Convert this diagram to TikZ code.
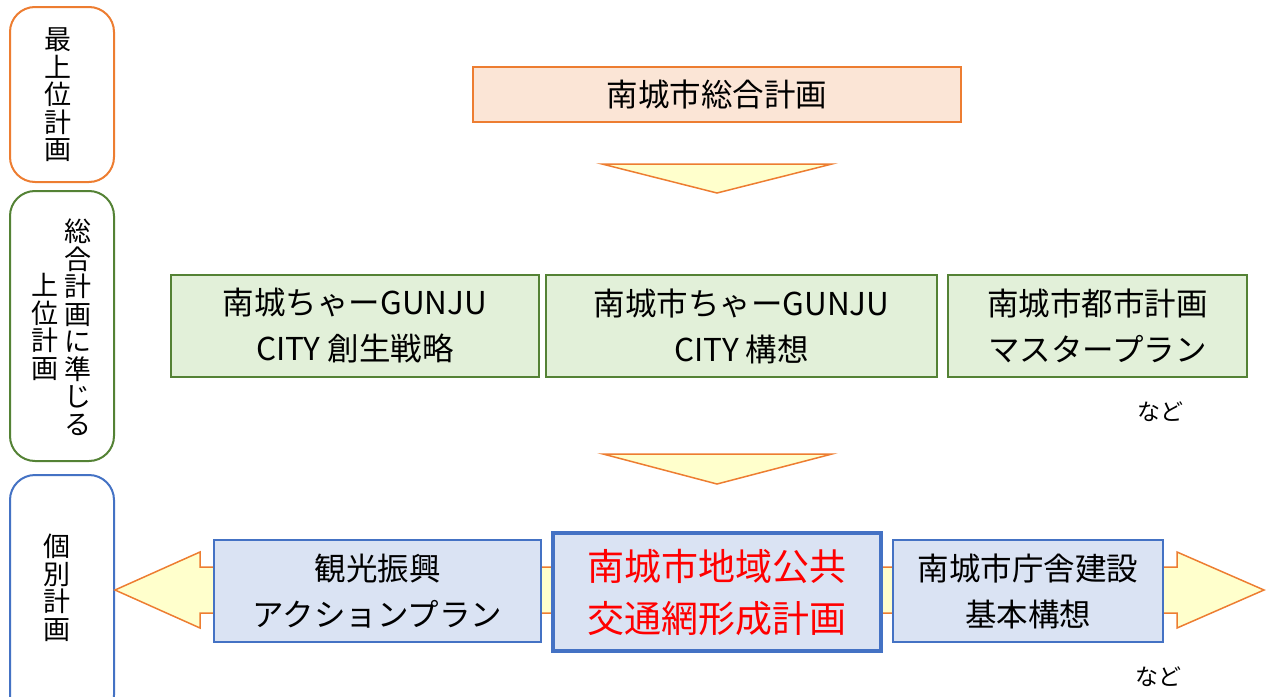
\documentclass[tikz,border=0pt]{standalone}
\usepackage{fontspec}
\setmainfont{Noto Sans CJK JP}
\usetikzlibrary{positioning}
\definecolor{planorange}{HTML}{ED7D31}
\definecolor{planpink}{HTML}{FBE5D6}
\definecolor{plangreen}{HTML}{548235}
\definecolor{planlgreen}{HTML}{E2F0D9}
\definecolor{planblue}{HTML}{4472C4}
\definecolor{planlblue}{HTML}{DAE3F3}
\definecolor{planyellow}{HTML}{FFFFCC}
\tikzstyle{levelbox} = [draw, line width=2, rounded corners=25, fill=white]
\tikzstyle{vtext} = [inner sep=0, align=center, font=\fontsize{27}{27.5}\selectfont]
\tikzstyle{planbox} = [draw, line width=1.5, inner sep=0, align=center, font=\fontsize{31.5}{46}\selectfont]
\tikzstyle{greenbox} = [planbox, draw=plangreen, fill=planlgreen, minimum height=102]
\tikzstyle{bluebox} = [planbox, draw=planblue, fill=planlblue, minimum height=102]
\tikzstyle{flow} = [draw=planorange, fill=planyellow, line width=1.5, line join=miter]
\tikzstyle{etc} = [inner sep=0, font=\fontsize{23}{26}\selectfont]

\begin{document}
\begin{tikzpicture}[x=1pt,y=-1pt]
		\useasboundingbox (0,0) rectangle (1266,696);
		\clip (0,0) rectangle (1266,696);

		% level column
		\draw[levelbox, draw=planorange] (10,7) rectangle (114,182);
		\draw[levelbox, draw=plangreen] (10,191) rectangle (114,461);
		\draw[levelbox, draw=planblue] (10,475) rectangle (114,720);
		\node[vtext] (top) at (58,95) {最\\上\\位\\計\\画};
		\node[vtext] (sub1) at (78,327) {総\\合\\計\\画\\に\\準\\じ\\る};
		\node[vtext] (sub2) at (45,327) {上\\位\\計\\画};
		\node[vtext] (each) at (57,588) {個\\別\\計\\画};

		% arrows
		\draw[flow] (602,164) -- (832,164) -- (717,193) -- cycle;
		\draw[flow] (603,454) -- (832,454) -- (717,484) -- cycle;
		\draw[flow] (115,590) -- (200,552) -- (200,567) -- (1177,567) -- (1177,552)
			-- (1264,590) -- (1177,628) -- (1177,613) -- (200,613) -- (200,628) -- cycle;

		% plans
		\node[planbox, draw=planorange, fill=planpink, minimum width=488, minimum height=55]
			(sogo) at (717,94.5) {南城市総合計画};

		\node[greenbox, minimum width=368] (sosei) at (355,326) {南城ちゃーGUNJU\\CITY 創生戦略};
		\node[greenbox, minimum width=391] (koso) at (741.5,326) {南城市ちゃーGUNJU\\CITY 構想};
		\node[greenbox, minimum width=299] (toshi) at (1097.5,326) {南城市都市計画\\マスタープラン};
		\node[etc] (etc1) at (1160,412) {など};

		\node[bluebox, minimum width=327] (kanko) at (377.5,591) {観光振興\\アクションプラン};
		\node[planbox, draw=planblue, fill=planlblue, line width=4, minimum width=328, minimum height=118,
			text=red, font=\fontsize{37}{52}\selectfont] (kotsu) at (717,592) {南城市地域公共\\交通網形成計画};
		\node[bluebox, minimum width=270] (chosha) at (1028,591) {南城市庁舎建設\\基本構想};
		\node[etc] (etc2) at (1158,677) {など};
\end{tikzpicture}
\end{document}
